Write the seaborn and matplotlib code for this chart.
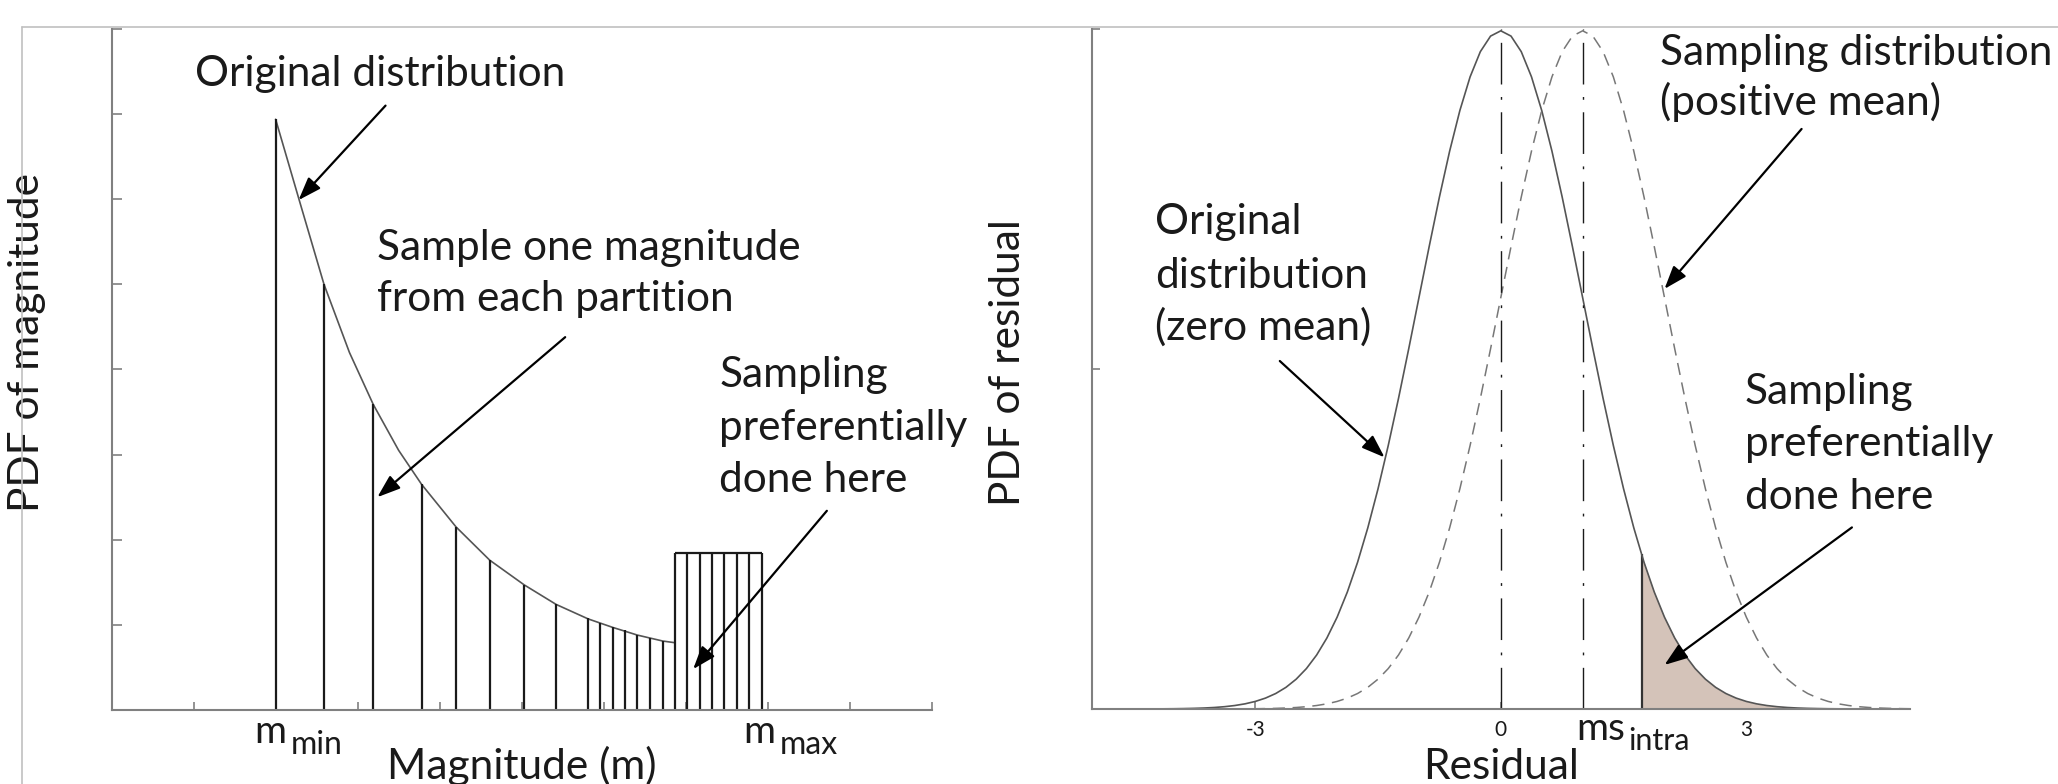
import numpy as np
import matplotlib.pyplot as plt
from matplotlib.lines import Line2D
import seaborn as sns

sns.set_theme(style='ticks')
plt.rcParams['font.family'] = ['Lato', 'DejaVu Sans']

# left panel: magnitude pdf (arbitrary units)
mag = [2.0, 2.3, 2.59, 2.9, 3.19, 3.5, 3.78, 4.2, 4.61, 5.03, 5.42, 5.81, 6.11, 6.41, 6.72, 6.87]
mag_pdf = [6.94, 5.95, 5.0, 4.2, 3.59, 3.05, 2.65, 2.15, 1.76, 1.47, 1.24, 1.07, 0.97, 0.88, 0.81, 0.79]
part_edges = [2.0, 2.59, 3.19, 3.78, 4.2, 4.61, 5.03, 5.42, 5.81, 5.96, 6.11, 6.26, 6.41, 6.56, 6.72]
part_heights = [6.94, 5.0, 3.59, 2.65, 2.15, 1.76, 1.47, 1.24, 1.08, 1.02, 0.97, 0.94, 0.88, 0.84, 0.81]
box_edges = [6.87, 7.02, 7.17, 7.32, 7.47, 7.62, 7.77, 7.93]
box_height = 1.85
m_min = 2.0
m_max = 7.93

# right panel: residual pdf (zero mean), read every 0.125 from -5 to 5
resid = np.linspace(-5, 5, 81)
orig_pdf = [0.0, 0.0, 0.0, 0.00001, 0.00002, 0.00003, 0.00005, 0.00008, 0.00013, 0.00022,
            0.00035, 0.00056, 0.00087, 0.00134, 0.00203, 0.00302, 0.00443, 0.0064, 0.00909,
            0.01272, 0.01753, 0.02377, 0.03174, 0.04173, 0.05399, 0.0688, 0.08628, 0.10654,
            0.12952, 0.15502, 0.18265, 0.21187, 0.24197, 0.27204, 0.30114, 0.32816, 0.35207,
            0.37186, 0.38667, 0.39583, 0.39894,
            0.39583, 0.38667, 0.37186, 0.35207, 0.32816, 0.30114, 0.27204, 0.24197, 0.21187,
            0.18265, 0.15502, 0.12952, 0.10654, 0.08628, 0.0688, 0.05399, 0.04173, 0.03174,
            0.02377, 0.01753, 0.01272, 0.00909, 0.0064, 0.00443, 0.00302, 0.00203, 0.00134,
            0.00087, 0.00056, 0.00035, 0.00022, 0.00013, 0.00008, 0.00005, 0.00003, 0.00002,
            0.00001, 0.0, 0.0, 0.0]
shift_mean = 1.0   # sampling distribution has the same shape, moved to ms_intra
mean_lines = [0.0, 1.0]
tail_start = 1.72
tail_top = 0.091
res_ticks = [-3, 0, 3]
res_ticklabels = ['-3', '0', '3']

ink = '#1a1a1a'
spine_col = '#808080'
fs = 30.5

fig = plt.figure(figsize=(20.58, 7.84), dpi=100)
ax1 = fig.add_axes([0.0542, 0.0944, 0.3986, 0.8686])
ax2 = fig.add_axes([0.5304, 0.0957, 0.3977, 0.8673])

for ax in (ax1, ax2):
    ax.spines[['top', 'right']].set_visible(False)
    for s in ('left', 'bottom'):
        ax.spines[s].set_color(spine_col)
        ax.spines[s].set_linewidth(1.5)
    ax.tick_params(direction='in', color=spine_col, width=1.2, length=6)

# ---- left panel
sns.lineplot(x=mag, y=mag_pdf, ax=ax1, color='#555555', lw=1.2, sort=False)
ax1.vlines(part_edges, 0, part_heights, color=ink, lw=1.6)
ax1.vlines(box_edges, 0, box_height, color=ink, lw=1.6)
ax1.hlines(box_height, box_edges[0], box_edges[-1], color=ink, lw=1.6)
ax1.set_xlim(0, 10)
ax1.set_ylim(0, 8)
ax1.set_xticks(range(11))
ax1.set_yticks(range(9))
ax1.set_xticklabels([])
ax1.set_yticklabels([])
ax1.tick_params(axis='y', length=7)

ax1.set_xlabel('Magnitude (m)', fontsize=fs, color=ink, va='baseline')
ax1.xaxis.set_label_coords(0.5, -0.101)
ax1.set_ylabel('PDF of magnitude', fontsize=fs, color=ink)
ax1.yaxis.set_label_coords(-0.08, 0.54)

bx = ax1.get_xaxis_transform()
ax1.text(m_min - 0.26, -0.048, 'm', transform=bx, fontsize=28, color=ink, va='baseline')
ax1.text(m_min + 0.18, -0.065, 'min', transform=bx, fontsize=23, color=ink, va='baseline')
ax1.text(m_max - 0.23, -0.048, 'm', transform=bx, fontsize=28, color=ink, va='baseline')
ax1.text(m_max + 0.21, -0.065, 'max', transform=bx, fontsize=23, color=ink, va='baseline')

ax1.text(1.02, 7.33, 'Original distribution', fontsize=fs, color=ink, va='baseline')
for txt, yy in zip(['Sample one magnitude', 'from each partition'], [5.29, 4.69]):
    ax1.text(3.24, yy, txt, fontsize=fs, color=ink, va='baseline')
for txt, yy in zip(['Sampling', 'preferentially', 'done here'], [3.80, 3.17, 2.56]):
    ax1.text(7.41, yy, txt, fontsize=fs, color=ink, va='baseline')

arrow = dict(arrowstyle='-|>,head_length=0.7,head_width=0.25', mutation_scale=20,
             lw=1.6, color='black', shrinkA=0, shrinkB=0)
ax1.annotate('', xy=(2.28, 5.99), xytext=(3.34, 7.10), arrowprops=arrow)
ax1.annotate('', xy=(3.24, 2.50), xytext=(5.53, 4.38), arrowprops=arrow)
ax1.annotate('', xy=(7.09, 0.48), xytext=(8.72, 2.34), arrowprops=arrow)

# ---- right panel
tail_x = [tail_start] + [x for x in resid if x > tail_start]
tail_y = [tail_top] + [p for x, p in zip(resid, orig_pdf) if x > tail_start]
ax2.fill_between(tail_x, 0, tail_y, color='#d4c3b9', lw=0)
ax2.vlines(tail_start, 0, tail_top, color='#333333', lw=1.6)

sns.lineplot(x=resid, y=orig_pdf, ax=ax2, color='#555555', lw=1.2, sort=False)
sns.lineplot(x=resid + shift_mean, y=orig_pdf, ax=ax2, color='#777777', lw=1.1, sort=False,
             linestyle=(0, (8, 5)))
ax2.vlines(mean_lines, 0, 0.4, color=ink, lw=1.0, linestyle=(0, (30, 9, 2, 9)))

ax2.set_xlim(-5, 5)
ax2.set_ylim(0, 0.4)
ax2.set_xticks(res_ticks)
ax2.set_xticklabels(res_ticklabels, fontsize=15, color=ink)
ax2.set_yticks([0, 0.2, 0.4])
ax2.set_yticklabels([])
ax2.tick_params(axis='x', pad=8, length=5)

ax2.set_xlabel('Residual', fontsize=fs, color=ink, va='baseline')
ax2.xaxis.set_label_coords(0.5, -0.103)
ax2.set_ylabel('PDF of residual', fontsize=fs, color=ink)
ax2.yaxis.set_label_coords(-0.079, 0.51)

rx = ax2.get_xaxis_transform()
ax2.text(0.92, -0.0456, 'ms', transform=rx, fontsize=28, color=ink, va='baseline')
ax2.text(1.56, -0.060, 'intra', transform=rx, fontsize=22, color=ink, va='baseline')

for txt, yy in zip(['Sampling distribution', '(positive mean)'], [0.3788, 0.3494]):
    ax2.text(1.95, yy, txt, fontsize=fs, color=ink, va='baseline')
for txt, yy in zip(['Original', 'distribution', '(zero mean)'], [0.2794, 0.2479, 0.2171]):
    ax2.text(-4.22, yy, txt, fontsize=fs, color=ink, va='baseline')
for txt, yy in zip(['Sampling', 'preferentially', 'done here'], [0.1794, 0.1488, 0.1176]):
    ax2.text(2.98, yy, txt, fontsize=fs, color=ink, va='baseline')

ax2.annotate('', xy=(2.0, 0.2471), xytext=(3.675, 0.3412), arrowprops=arrow)
ax2.annotate('', xy=(-1.42, 0.148), xytext=(-2.70, 0.2047), arrowprops=arrow)
ax2.annotate('', xy=(2.0, 0.0259), xytext=(4.29, 0.1068), arrowprops=arrow)

# thin grey frame around the figure (top and left edge)
fig.add_artist(Line2D([22 / 2058, 1], [1 - 27 / 784] * 2, transform=fig.transFigure,
                      color='#c0c0c0', lw=1.2))
fig.add_artist(Line2D([22 / 2058] * 2, [0, 1 - 27 / 784], transform=fig.transFigure,
                      color='#c0c0c0', lw=1.2))

fig.savefig('out.png', dpi=100)
